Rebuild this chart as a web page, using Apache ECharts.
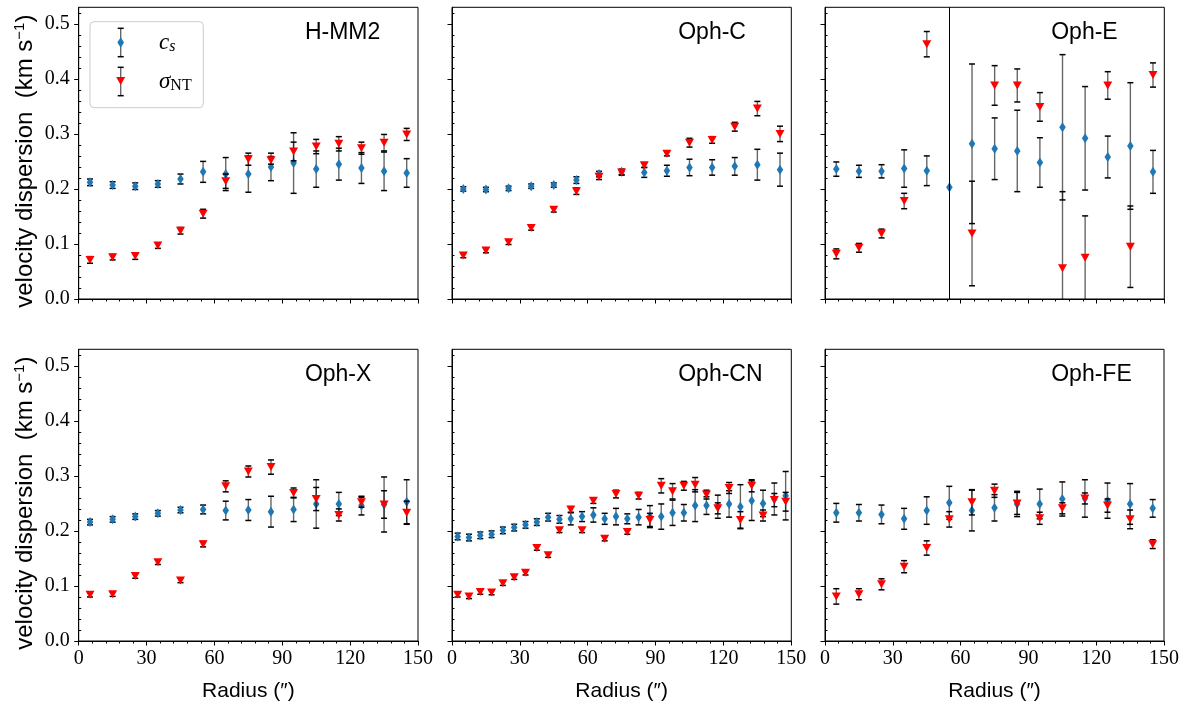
<!DOCTYPE html>
<html><head><meta charset="utf-8">
<script src="https://cdn.jsdelivr.net/npm/echarts@6/dist/echarts.min.js"></script>
<style>html,body{margin:0;padding:0;background:#fff}#c{width:1182px;height:713px}</style>
</head><body><div id="c"></div>
<script>
// ---------------- data ----------------
const panelNames = ['H-MM2', 'Oph-C', 'Oph-E', 'Oph-X', 'Oph-CN', 'Oph-FE'];
const radii = [5, 15, 25, 35, 45, 55, 65, 75, 85, 95, 105, 115, 125, 135, 145];
const radiiCN = [2.5, 7.5, 12.5, 17.5, 22.5, 27.5, 32.5, 37.5, 42.5, 47.5, 52.5, 57.5, 62.5, 67.5, 72.5,
                 77.5, 82.5, 87.5, 92.5, 97.5, 102.5, 107.5, 112.5, 117.5, 122.5, 127.5, 132.5, 137.5, 142.5, 147.5];
const xTicks = [0, 30, 60, 90, 120, 150];
const yTicks = [0, 0.1, 0.2, 0.3, 0.4, 0.5];
const yMinorTicks = [0.02, 0.04, 0.06, 0.08, 0.12, 0.14, 0.16, 0.18, 0.22, 0.24, 0.26, 0.28,
                     0.32, 0.34, 0.36, 0.38, 0.42, 0.44, 0.46, 0.48, 0.52];

const hmm2_cs     = [0.212,0.207,0.205,0.209,0.218,0.231,0.227,0.227,0.240,0.247,0.236,0.245,0.238,0.232,0.229];
const hmm2_csErr  = [0.006,0.006,0.006,0.006,0.009,0.019,0.030,0.033,0.025,0.055,0.033,0.029,0.028,0.035,0.026];
const hmm2_nt     = [0.071,0.076,0.078,0.097,0.124,0.155,0.214,0.254,0.252,0.268,0.277,0.282,0.274,0.284,0.299];
const hmm2_ntErr  = [0.006,0.005,0.006,0.005,0.006,0.008,0.013,0.011,0.007,0.017,0.013,0.013,0.011,0.015,0.011];

const ophC_cs     = [0.200,0.199,0.201,0.205,0.207,0.216,0.227,0.231,0.230,0.233,0.239,0.239,0.241,0.244,0.235];
const ophC_csErr  = [0.004,0.004,0.004,0.004,0.004,0.006,0.005,0.005,0.009,0.010,0.015,0.014,0.016,0.028,0.030];
const ophC_nt     = [0.079,0.088,0.103,0.129,0.162,0.196,0.222,0.230,0.243,0.264,0.284,0.289,0.313,0.346,0.300];
const ophC_ntErr  = [0.004,0.004,0.004,0.004,0.004,0.006,0.005,0.005,0.004,0.004,0.008,0.006,0.008,0.013,0.014];

const ophE_cs     = [0.236,0.232,0.232,0.237,0.233,0.203,0.282,0.273,0.269,0.248,0.312,0.292,0.258,0.278,0.231];
const ophE_csErr  = [0.013,0.011,0.012,0.034,0.027,0,0.145,0.056,0.074,0.045,0.132,0.094,0.038,0.115,0.039];
const ophE_nt     = [0.082,0.093,0.119,0.178,0.463,null,0.119,0.388,0.388,0.349,0.056,0.075,0.388,0.095,0.407];
const ophE_ntErr  = [0.009,0.008,0.008,0.014,0.023,null,0.095,0.036,0.030,0.026,0.139,0.076,0.025,0.074,0.022];
const ophE_vline  = 55;

const ophX_cs     = [0.216,0.221,0.226,0.232,0.238,0.239,0.237,0.238,0.235,0.239,0.249,0.249,0.246,0.248,0.253];
const ophX_csErr  = [0.005,0.005,0.005,0.005,0.005,0.008,0.017,0.019,0.028,0.022,0.044,0.021,0.017,0.050,0.040];
const ophX_nt     = [0.084,0.085,0.118,0.143,0.110,0.176,0.281,0.308,0.316,0.269,0.258,0.229,0.252,0.248,0.233];
const ophX_ntErr  = [0.004,0.004,0.004,0.004,0.004,0.005,0.010,0.010,0.013,0.009,0.021,0.011,0.009,0.025,0.021];

const ophCN_cs    = [0.190,0.188,0.192,0.194,0.201,0.206,0.211,0.216,0.225,0.221,0.222,0.226,0.229,0.222,0.226,
                     0.222,0.225,0.226,0.226,0.233,0.233,0.246,0.246,0.244,0.249,0.244,0.255,0.250,0.258,0.264];
const ophCN_csErr = [0.006,0.006,0.006,0.006,0.006,0.006,0.006,0.006,0.007,0.007,0.011,0.009,0.013,0.010,0.015,
                     0.009,0.014,0.020,0.023,0.023,0.015,0.029,0.016,0.021,0.024,0.040,0.036,0.024,0.029,0.044];
const ophCN_nt    = [0.084,0.081,0.089,0.088,0.105,0.116,0.124,0.169,0.156,0.201,0.239,0.201,0.255,0.186,0.267,
                     0.198,0.264,0.220,0.282,0.272,0.282,0.284,0.266,0.241,0.278,0.220,0.282,0.228,0.256,0.253];
const ophCN_ntErr = [0.004,0.004,0.004,0.004,0.004,0.004,0.004,0.004,0.004,0.004,0.005,0.004,0.005,0.004,0.007,
                     0.004,0.006,0.012,0.013,0.014,0.008,0.013,0.008,0.010,0.010,0.015,0.011,0.010,0.012,0.017];

const ophFE_cs    = [0.233,0.233,0.230,0.222,0.237,0.251,0.237,0.242,0.249,0.249,0.258,0.259,0.255,0.249,0.241];
const ophFE_csErr = [0.017,0.015,0.017,0.019,0.025,0.030,0.037,0.024,0.023,0.027,0.031,0.034,0.032,0.037,0.016];
const ophFE_nt    = [0.081,0.085,0.103,0.135,0.169,0.221,0.252,0.273,0.250,0.223,0.241,0.259,0.246,0.221,0.176];
const ophFE_ntErr = [0.014,0.010,0.010,0.011,0.013,0.014,0.023,0.012,0.020,0.011,0.010,0.010,0.012,0.017,0.008];

// ---------------- layout / style ----------------
const X_MAX = 150, Y_MAX = 0.53;
const gridLefts = [78.7, 452, 825];
const gridTops = [7.3, 349.3];
const GW = 339.3, GH = 291.7;
const CS_COLOR = '#1f77b4', NT_COLOR = '#ff0000';
const SERIF = 'Liberation Serif';
const SANS = 'Liberation Sans';

const panels = [
  {x: radii,   cs: hmm2_cs,  csErr: hmm2_csErr,  nt: hmm2_nt,  ntErr: hmm2_ntErr},
  {x: radii,   cs: ophC_cs,  csErr: ophC_csErr,  nt: ophC_nt,  ntErr: ophC_ntErr},
  {x: radii,   cs: ophE_cs,  csErr: ophE_csErr,  nt: ophE_nt,  ntErr: ophE_ntErr, vline: ophE_vline},
  {x: radii,   cs: ophX_cs,  csErr: ophX_csErr,  nt: ophX_nt,  ntErr: ophX_ntErr},
  {x: radiiCN, cs: ophCN_cs, csErr: ophCN_csErr, nt: ophCN_nt, ntErr: ophCN_ntErr},
  {x: radii,   cs: ophFE_cs, csErr: ophFE_csErr, nt: ophFE_nt, ntErr: ophFE_ntErr}
];

function errRender(params, api) {
  const x = api.value(0), y = api.value(1), e = api.value(2);
  if (isNaN(y) || !e) return null;
  const lo = y - e, hi = y + e;
  const a = api.coord([x, Math.max(lo, 0)]);
  const b = api.coord([x, Math.min(hi, Y_MAX)]);
  const cw = 3;
  const children = [{type: 'line', shape: {x1: a[0], y1: a[1], x2: b[0], y2: b[1]},
                     style: {stroke: 'rgba(0,0,0,0.6)', lineWidth: 1.4}}];
  if (lo >= 0) children.push({type: 'line', shape: {x1: a[0]-cw, y1: a[1], x2: a[0]+cw, y2: a[1]},
                              style: {stroke: '#000', lineWidth: 1.5}});
  if (hi <= Y_MAX) children.push({type: 'line', shape: {x1: b[0]-cw, y1: b[1], x2: b[0]+cw, y2: b[1]},
                                  style: {stroke: '#000', lineWidth: 1.5}});
  return {type: 'group', children};
}

const grids = [], xAxes = [], yAxes = [], series = [], titles = [];
panels.forEach((p, i) => {
  const col = i % 3, row = Math.floor(i / 3);
  grids.push({left: gridLefts[col], top: gridTops[row], width: GW, height: GH,
              show: true, borderColor: '#000', borderWidth: 1, backgroundColor: 'transparent', containLabel: false});
  xAxes.push({
    type: 'value', gridIndex: i, min: 0, max: X_MAX, interval: 30,
    axisLine: {show: true, onZero: false, lineStyle: {color: '#000', width: 1}},
    axisTick: {show: true, length: 4.5, lineStyle: {color: '#000', width: 1}},
    minorTick: {show: true, splitNumber: 5, length: 2.5, lineStyle: {color: '#000', width: 1}},
    splitLine: {show: false}, minorSplitLine: {show: false},
    axisLabel: {show: row === 1, margin: 8, color: '#000', fontFamily: SERIF, fontSize: 20},
    name: row === 1 ? 'Radius (″)' : '', nameLocation: 'middle', nameGap: 40,
    nameTextStyle: {color: '#000', fontFamily: SANS, fontSize: 21}
  });
  yAxes.push({
    type: 'value', gridIndex: i, min: 0, max: Y_MAX,
    axisLine: {show: true, onZero: false, lineStyle: {color: '#000', width: 1}},
    axisTick: {show: true, length: 4.5, customValues: yTicks, lineStyle: {color: '#000', width: 1}},
    splitLine: {show: false},
    axisLabel: {show: col === 0, customValues: yTicks, margin: 9, color: '#000', fontFamily: SERIF, fontSize: 20,
                formatter: v => v.toFixed(1)},
    name: col === 0 ? '{a|velocity dispersion  (km s}{b|−1}{a|)}' : '',
    nameLocation: 'middle', nameGap: 40, nameRotate: 90,
    nameTextStyle: {color: '#000', padding: [0, 16, 0, 0],
      rich: {a: {fontFamily: SANS, fontSize: 24, color: '#000', lineHeight: 26},
             b: {fontFamily: SANS, fontSize: 15, color: '#000', verticalAlign: 'top', lineHeight: 15}}}
  });
  yAxes.push({
    type: 'value', gridIndex: i, min: 0, max: Y_MAX,
    axisLine: {show: false},
    axisTick: {show: true, length: 2.5, customValues: yMinorTicks, lineStyle: {color: '#000', width: 1}},
    splitLine: {show: false}, axisLabel: {show: false}
  });
  const yIdx = 2 * i;
  const csErrData = p.x.map((x, k) => [x, p.cs[k], p.csErr[k]]).filter(d => d[1] != null);
  const ntErrData = p.x.map((x, k) => [x, p.nt[k], p.ntErr[k]]).filter(d => d[1] != null);
  series.push({type: 'custom', xAxisIndex: i, yAxisIndex: yIdx, renderItem: errRender, data: csErrData,
               encode: {x: 0, y: 1}, z: 2, silent: true, animation: false});
  const csScatter = {type: 'scatter', xAxisIndex: i, yAxisIndex: yIdx, symbol: 'diamond', symbolSize: [6.5, 10],
               itemStyle: {color: CS_COLOR, opacity: 1}, data: csErrData.map(d => [d[0], d[1]]), z: 3,
               silent: true, animation: false, emphasis: {disabled: true}};
  if (p.vline != null) {
    csScatter.markLine = {silent: true, symbol: ['none', 'none'], label: {show: false},
      lineStyle: {color: '#000', width: 1, type: 'solid'}, data: [{xAxis: p.vline}], animation: false};
  }
  series.push(csScatter);
  series.push({type: 'custom', xAxisIndex: i, yAxisIndex: yIdx, renderItem: errRender, data: ntErrData,
               encode: {x: 0, y: 1}, z: 4, silent: true, animation: false});
  series.push({type: 'scatter', xAxisIndex: i, yAxisIndex: yIdx, symbol: 'triangle', symbolRotate: 180,
               symbolSize: [9, 8], itemStyle: {color: NT_COLOR, opacity: 1},
               data: ntErrData.map(d => [d[0], d[1]]), z: 5, silent: true, animation: false, emphasis: {disabled: true}});
  titles.push({text: panelNames[i], left: gridLefts[col] + GW * 2 / 3, top: gridTops[row] + 14, padding: 0,
               textStyle: {fontFamily: SANS, fontSize: 23, fontWeight: 'normal', color: '#000'}});
});

// legend (drawn as graphics, top-left panel)
const LX = 120.7;
const legend = {
  type: 'group', silent: true, z: 100, children: [
    {type: 'rect', shape: {x: 90, y: 21.7, width: 113.3, height: 86, r: 4},
     style: {fill: 'rgba(255,255,255,0.8)', stroke: '#cccccc', lineWidth: 1}},
    {type: 'line', shape: {x1: LX, y1: 28.3, x2: LX, y2: 56.7}, style: {stroke: 'rgba(0,0,0,0.6)', lineWidth: 1.4}},
    {type: 'line', shape: {x1: LX-3, y1: 28.3, x2: LX+3, y2: 28.3}, style: {stroke: '#000', lineWidth: 1.5}},
    {type: 'line', shape: {x1: LX-3, y1: 56.7, x2: LX+3, y2: 56.7}, style: {stroke: '#000', lineWidth: 1.5}},
    {type: 'polygon', shape: {points: [[LX, 37.2], [LX+3.3, 42.5], [LX, 47.8], [LX-3.3, 42.5]]}, style: {fill: CS_COLOR}},
    {type: 'line', shape: {x1: LX, y1: 67.3, x2: LX, y2: 95.7}, style: {stroke: 'rgba(0,0,0,0.6)', lineWidth: 1.4}},
    {type: 'line', shape: {x1: LX-3, y1: 67.3, x2: LX+3, y2: 67.3}, style: {stroke: '#000', lineWidth: 1.5}},
    {type: 'line', shape: {x1: LX-3, y1: 95.7, x2: LX+3, y2: 95.7}, style: {stroke: '#000', lineWidth: 1.5}},
    {type: 'polygon', shape: {points: [[LX-4.5, 77], [LX+4.5, 77], [LX, 85]]}, style: {fill: NT_COLOR}},
    {type: 'text', x: 159, y: 43, style: {text: '{c|c}{s|s}', verticalAlign: 'middle', align: 'left',
      rich: {c: {fontFamily: SERIF, fontStyle: 'italic', fontSize: 23, color: '#000', lineHeight: 24},
             s: {fontFamily: SERIF, fontStyle: 'italic', fontSize: 16, color: '#000', verticalAlign: 'bottom', lineHeight: 16, padding: [8, 0, 0, 0]}}}},
    {type: 'text', x: 159, y: 82, style: {text: '{c|σ}{s|NT}', verticalAlign: 'middle', align: 'left',
      rich: {c: {fontFamily: SERIF, fontStyle: 'italic', fontSize: 23, color: '#000', lineHeight: 24},
             s: {fontFamily: SERIF, fontSize: 16, color: '#000', verticalAlign: 'bottom', lineHeight: 16, padding: [8, 0, 0, 0]}}}}
  ]
};

const chart = echarts.init(document.getElementById('c'), null, {renderer: 'canvas'});
chart.setOption({
  animation: false, backgroundColor: '#fff',
  title: titles, grid: grids, xAxis: xAxes, yAxis: yAxes, series: series,
  graphic: [legend], tooltip: {show: false}
});
</script></body></html>
